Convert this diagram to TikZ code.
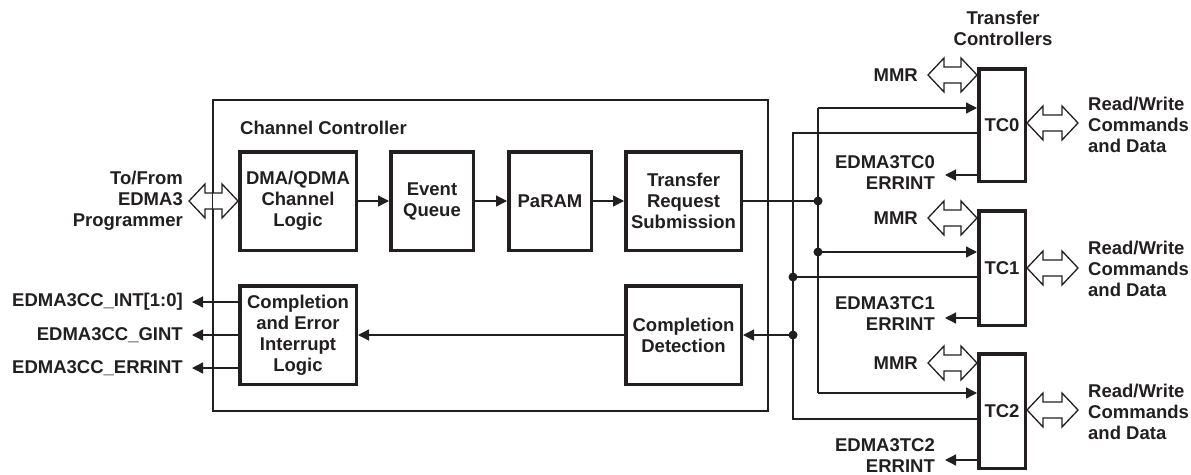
\documentclass[tikz,border=0pt]{standalone}
\usepackage{fontspec}
\setmainfont{Liberation Sans}
\usetikzlibrary{arrows.meta}
\definecolor{ink}{RGB}{35,31,32}
\newcommand\dblarr[3]{%
  \draw[thinln, fill=white] (#1,#3) -- (#1+16,#3-17) -- (#1+16,#3-8) -- (#2-16,#3-8) -- (#2-16,#3-17) -- (#2,#3) -- (#2-16,#3+17) -- (#2-16,#3+8) -- (#1+16,#3+8) -- (#1+16,#3+17) -- cycle;}
\begin{document}
\begin{tikzpicture}[x=1pt,y=-1pt,
  every node/.style={font=\fontsize{18.5}{21}\selectfont\bfseries, text=ink, inner sep=0pt},
  thinln/.style={draw=ink, line width=1.3pt},
  box/.style={draw=ink, line width=3.5pt, align=center},
  arr/.style={thinln, -{Triangle[length=11pt,width=11pt]}},
  dot/.style={fill=ink}]
\useasboundingbox (0,0) rectangle (1191,474);

% channel controller frame
\node[thinln, minimum width=555, minimum height=311] (cc) at (490.5,255.5) {};
\node[anchor=west] (cclbl) at (240,128) {Channel Controller};

% CC boxes
\node[box, minimum width=116.5, minimum height=98.5] (dma) at (298,201) {DMA/QDMA\\Channel\\Logic};
\node[box, minimum width=82.5, minimum height=98.5] (evq) at (432,201) {Event\\Queue};
\node[box, minimum width=82.5, minimum height=98.5] (param) at (550,201) {PaRAM};
\node[box, minimum width=115.5, minimum height=98.5] (trs) at (683.5,201) {Transfer\\Request\\Submission};
\node[box, minimum width=116.5, minimum height=98.5] (cel) at (298,335) {Completion\\and Error\\Interrupt\\Logic};
\node[box, minimum width=115.5, minimum height=98.5] (cd) at (683.5,335) {Completion\\Detection};

\draw[arr] (dma.east) -- (evq.west);
\draw[arr] (evq.east) -- (param.west);
\draw[arr] (param.east) -- (trs.west);
\draw[arr] (cd.west) -- (cel.east);

% programmer port
\node[anchor=east, align=right] (prog) at (183,201) {To/From\\EDMA3\\Programmer};
\dblarr{189}{238}{201}
\draw[thinln] (cc.north west) -- (cc.south west);

% interrupt outputs
\node[anchor=east] (int) at (183,302) {EDMA3CC\_INT[1:0]};
\node[anchor=east] (gint) at (183,335) {EDMA3CC\_GINT};
\node[anchor=east] (errint) at (183,368) {EDMA3CC\_ERRINT};
\draw[arr] (cel.west |- int) -- ([xshift=9pt]int.east);
\draw[arr] (cel.west |- gint) -- ([xshift=9pt]gint.east);
\draw[arr] (cel.west |- errint) -- ([xshift=9pt]errint.east);

% transfer controllers
\node[align=center] (tclbl) at (1003,28) {Transfer\\Controllers};
\node[box, minimum width=46.5, minimum height=112.5] (tc0) at (1002,125) {TC0};
\node[box, minimum width=46.5, minimum height=114.5] (tc1) at (1002,268) {TC1};
\node[box, minimum width=46.5, minimum height=114.5] (tc2) at (1002,411) {TC2};

\node[anchor=east] (mmr0) at (918,75) {MMR};
\node[anchor=east] (mmr1) at (918,218) {MMR};
\node[anchor=east] (mmr2) at (918,363) {MMR};
\dblarr{928}{977}{75}
\dblarr{928}{977}{218}
\dblarr{928}{977}{363}

\node[anchor=west, align=left] (rw0) at (1088,125) {Read/Write\\Commands\\and Data};
\node[anchor=west, align=left] (rw1) at (1088,269) {Read/Write\\Commands\\and Data};
\node[anchor=west, align=left] (rw2) at (1088,412) {Read/Write\\Commands\\and Data};
\dblarr{1027}{1078}{123}
\dblarr{1027}{1078}{268}
\dblarr{1027}{1078}{410}

\node[anchor=east, align=right] (err0) at (935,173) {EDMA3TC0\\ERRINT};
\node[anchor=east, align=right] (err1) at (935,314) {EDMA3TC1\\ERRINT};
\node[anchor=east, align=right] (err2) at (935,456) {EDMA3TC2\\ERRINT};
\coordinate (e0) at (945,175);
\coordinate (e1) at (945,318);
\coordinate (e2) at (945,460);
\draw[arr] (tc0.west |- e0) -- (e0);
\draw[arr] (tc1.west |- e1) -- (e1);
\draw[arr] (tc2.west |- e2) -- (e2);

% request bus
\coordinate (j1) at (818,201);
\coordinate (a0) at (818,108);
\coordinate (a2) at (818,393);
\coordinate (j2) at (818,252);
\draw[thinln] (trs.east) -- (j1);
\draw[thinln] (a0) -- (a2);
\draw[arr] (a0) -- (a0 -| tc0.west);
\draw[arr] (j2) -- (j2 -| tc1.west);
\draw[arr] (a2) -- (a2 -| tc2.west);

% completion bus
\coordinate (b0) at (793,133);
\coordinate (b2) at (793,419);
\coordinate (j3) at (793,277);
\coordinate (j4) at (793,335);
\draw[thinln] (b0 -| tc0.west) -- (b0) -- (b2) -- (b2 -| tc2.west);
\draw[thinln] (j3) -- (j3 -| tc1.west);
\draw[arr] (j4) -- (cd.east);

\fill[dot] (j1) circle (4.5);
\fill[dot] (j2) circle (4.5);
\fill[dot] (j3) circle (4.5);
\fill[dot] (j4) circle (4.5);
\end{tikzpicture}
\end{document}
